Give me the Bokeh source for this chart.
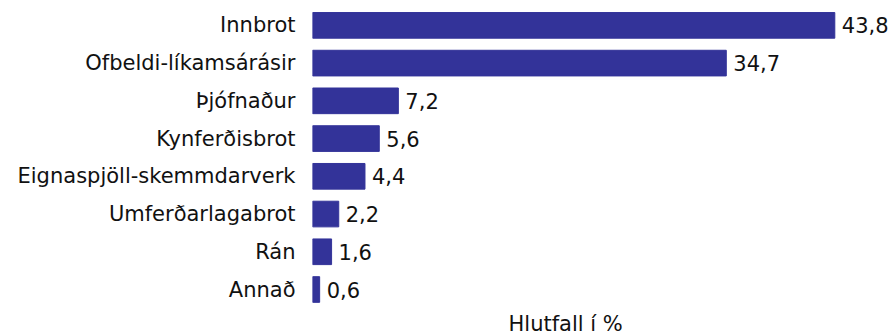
from bokeh.plotting import figure
from bokeh.models import Range1d, FixedTicker, ColumnDataSource, Title
from bokeh.core.properties import value
from bokeh.embed import file_html
from bokeh.resources import INLINE

categories = ["Innbrot", "Ofbeldi-líkamsárásir", "Þjófnaður", "Kynferðisbrot",
              "Eignaspjöll-skemmdarverk", "Umferðarlagabrot", "Rán", "Annað"]
values = [43.8, 34.7, 7.2, 5.6, 4.4, 2.2, 1.6, 0.6]
axis_title = "Hlutfall í %"

FONT = "DejaVu Sans"
TXT = "#111111"
FS = "21px"

ys = list(range(len(categories)))
labels = [f"{v:.1f}".replace(".", ",") for v in values]
src = ColumnDataSource(dict(y=ys, v=values, lab=labels))

p = figure(width=890, height=335, output_backend="svg", toolbar_location=None,
           x_range=Range1d(0, 48.47), y_range=Range1d(len(categories) - 0.5 + 0.03, -0.447),
           min_border_left=312, min_border_right=0, min_border_top=8, min_border_bottom=0)

p.hbar(y="y", right="v", left=0, height=0.68, source=src, color="#333399")
p.text(x="v", y="y", text="lab", source=src, x_offset=7, text_baseline="middle",
       text_align="left", text_font=value(FONT), text_font_size=FS, text_color=TXT)

p.xaxis.visible = False
yax = p.yaxis[0]
yax.ticker = FixedTicker(ticks=ys)
yax.major_label_overrides = {i: c for i, c in zip(ys, categories)}
yax.axis_line_color = None
yax.major_tick_line_color = None
yax.minor_tick_line_color = None
yax.major_tick_out = 0
yax.major_tick_in = 0
yax.major_label_standoff = 17
yax.major_label_text_font = FONT
yax.major_label_text_font_size = FS
yax.major_label_text_color = TXT

p.grid.visible = False
p.outline_line_color = None

p.add_layout(Title(text=axis_title, align="left", offset=196, text_font=FONT,
                   text_font_size=FS, text_font_style="normal", text_color=TXT,
                   standoff=0), "below")

open("out.html", "w").write(file_html(p, INLINE))
